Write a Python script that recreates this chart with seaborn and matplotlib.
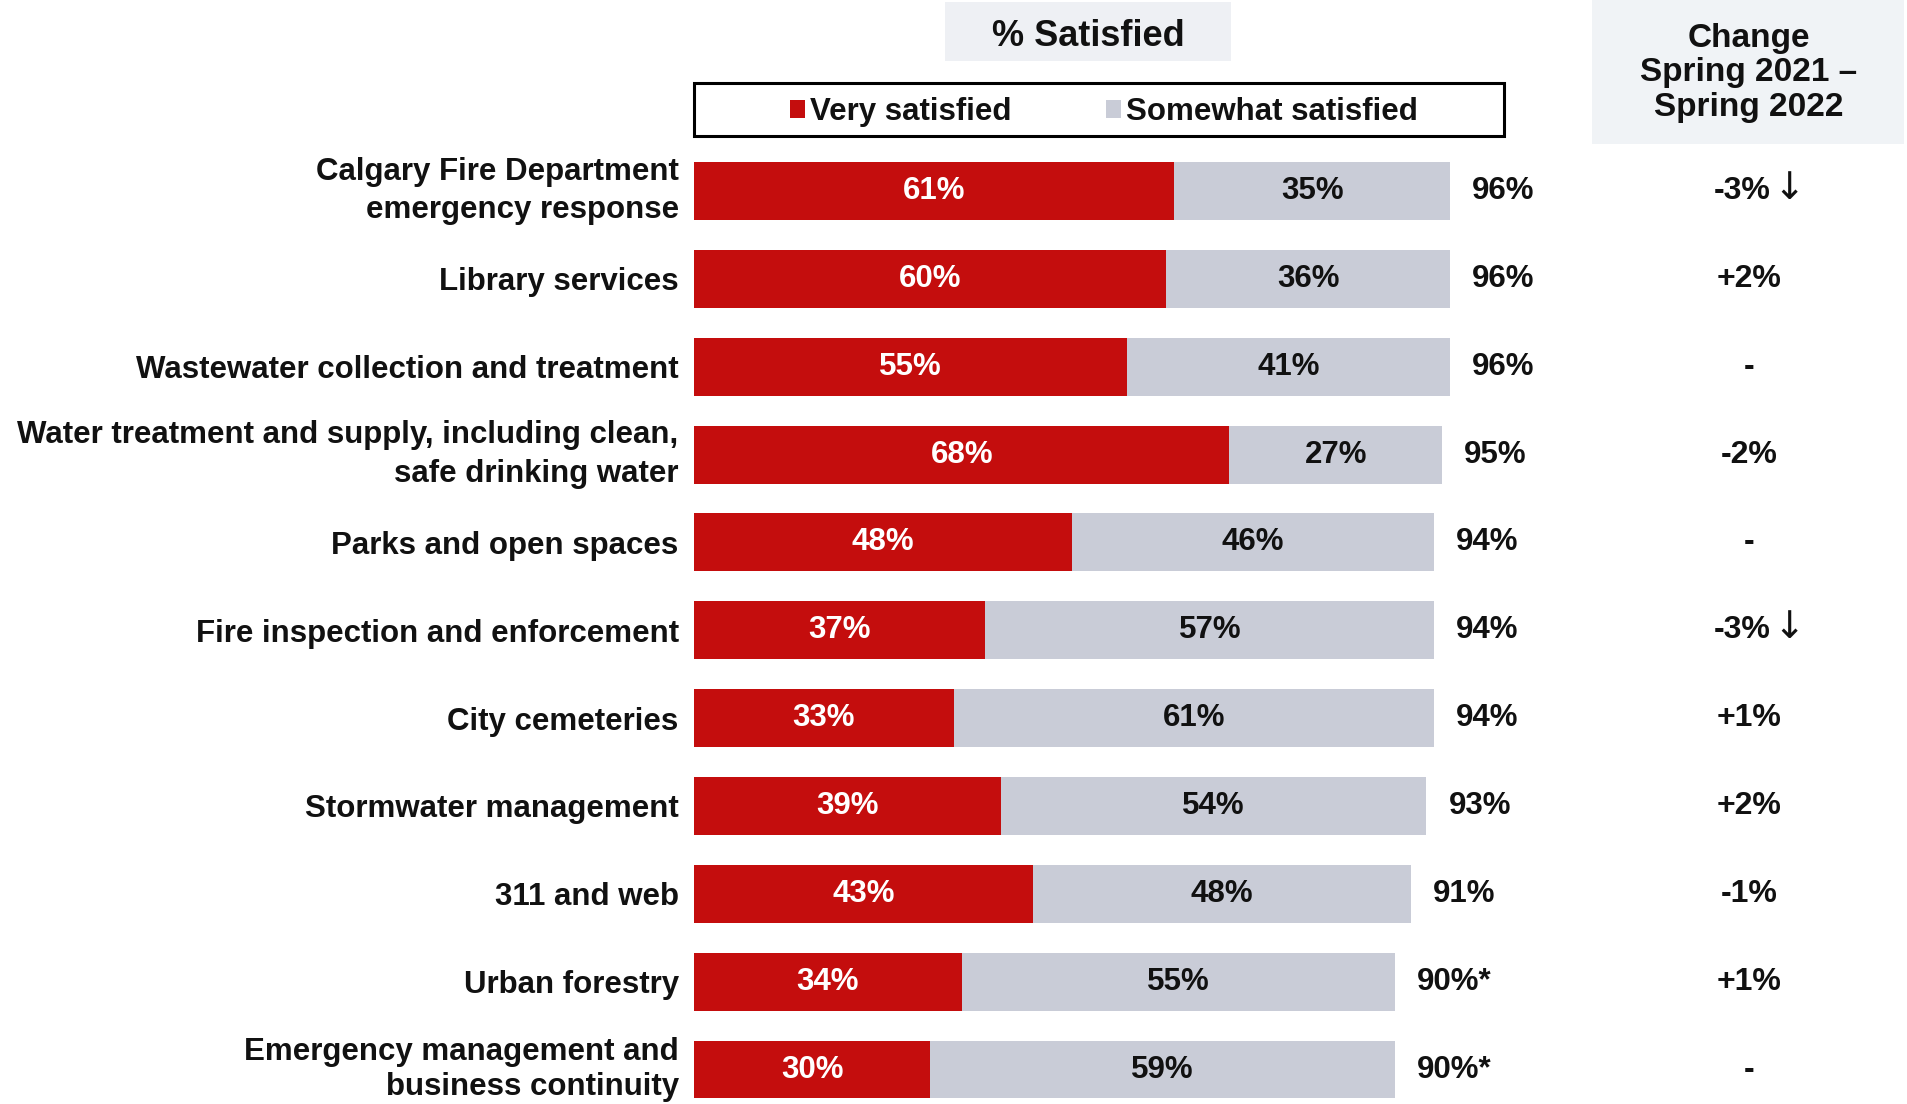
import matplotlib
matplotlib.use("Agg")
import matplotlib.pyplot as plt
from matplotlib.patches import Patch, Rectangle
import pandas as pd
import seaborn as sns

# ---- data -------------------------------------------------------------
services = [
    "Calgary Fire Department\nemergency response",
    "Library services",
    "Wastewater collection and treatment",
    "Water treatment and supply, including clean,\nsafe drinking water",
    "Parks and open spaces",
    "Fire inspection and enforcement",
    "City cemeteries",
    "Stormwater management",
    "311 and web",
    "Urban forestry",
    "Emergency management and\nbusiness continuity",
]
very_satisfied = [61, 60, 55, 68, 48, 37, 33, 39, 43, 34, 30]
somewhat_satisfied = [35, 36, 41, 27, 46, 57, 61, 54, 48, 55, 59]
total_labels = ["96%", "96%", "96%", "95%", "94%", "94%", "94%", "93%", "91%", "90%*", "90%*"]
change_labels = ["-3%\u2193", "+2%", "-", "-2%", "-", "-3%\u2193", "+1%", "+2%", "-1%", "+1%", "-"]

legend_labels = ["Very satisfied", "Somewhat satisfied"]
title_text = "% Satisfied"
change_title = "Change\nSpring 2021 \u2013\nSpring 2022"

RED = "#c40d0d"
GREY = "#c9ccd7"
INK = "#111111"

# ---- style -------------------------------------------------------------
sns.set_style("white")
plt.rcParams["font.family"] = ["Liberation Sans", "DejaVu Sans"]
plt.rcParams["font.weight"] = "bold"

W, H = 1908, 1104
fig = plt.figure(figsize=(W / 100, H / 100), dpi=100)

# axes placement in pixels
x0_px, unit_px = 694, 7.875          # left edge of bars, pixels per percent
row0_px, row_step = 191.0, 87.85     # centre of first row, row pitch
top_px = row0_px - 0.5 * row_step
y_bottom = (H - row0_px) / row_step  # data y at figure bottom
ax = fig.add_axes([x0_px / W, 0.0, 100 * unit_px / W, (H - top_px) / H])

df = pd.DataFrame({
    "service": services,
    "very": very_satisfied,
    "stack": [v + s for v, s in zip(very_satisfied, somewhat_satisfied)],
})

# stacked bars: full stack in grey, the "very satisfied" share over it in red
sns.barplot(data=df, x="stack", y="service", orient="h", color=GREY,
            saturation=1, width=0.66, errorbar=None, ax=ax, linewidth=0)
sns.barplot(data=df, x="very", y="service", orient="h", color=RED,
            saturation=1, width=0.66, errorbar=None, ax=ax, linewidth=0)

ax.set_xlim(0, 100)
ax.set_ylim(y_bottom, -0.5)
ax.set_xlabel("")
ax.set_ylabel("")
ax.set_xticks([])
for sp in ax.spines.values():
    sp.set_visible(False)
ax.tick_params(axis="y", length=0, pad=11)
ticklabels = ax.get_yticklabels()
for lbl in ticklabels:
    lbl.set_fontsize(22.5)
    lbl.set_fontweight("bold")
    lbl.set_color(INK)
    if "\n" in lbl.get_text():
        lbl.set_linespacing(1.38)
        lbl.set_verticalalignment("center")
# the last two-line label sits at the bottom edge: keep it a bit tighter
ticklabels[-1].set_linespacing(1.2)

FS = 22.5
for i, (v, s, t) in enumerate(zip(very_satisfied, somewhat_satisfied, total_labels)):
    ax.text(v / 2, i, f"{v}%", ha="center", va="center", color="white",
            fontsize=FS, fontweight="bold")
    ax.text(v + s / 2, i, f"{s}%", ha="center", va="center", color=INK,
            fontsize=FS, fontweight="bold")
    ax.text(v + s + 2.8, i, t, ha="left", va="center", color=INK,
            fontsize=FS, fontweight="bold")

# change column, positioned in figure x / data y
change_tr = matplotlib.transforms.blended_transform_factory(fig.transFigure, ax.transData)
ARROW = "\u2193"
for i, c in enumerate(change_labels):
    if c.endswith(ARROW):
        ax.text(1771 / W, i, c[:-1], transform=change_tr, ha="right", va="center",
                fontsize=23, fontweight="bold", color=INK)
        ax.text(1773 / W, i - 0.02, ARROW, transform=change_tr, ha="left", va="center",
                fontsize=27, fontweight="normal", color=INK, family="DejaVu Sans")
    else:
        ax.text(1749 / W, i, c, transform=change_tr, ha="center", va="center",
                fontsize=23, fontweight="bold", color=INK)

# header boxes
fig.patches.append(Rectangle((945 / W, 1 - 61 / H), 286 / W, 59 / H,
                             transform=fig.transFigure, facecolor="#eef0f4",
                             edgecolor="none", zorder=0))
fig.text(1088 / W, 1 - 36 / H, title_text, ha="center", va="center",
         fontsize=26, fontweight="bold", color=INK)

fig.patches.append(Rectangle((1592 / W, 1 - 144 / H), 312 / W, 144 / H,
                             transform=fig.transFigure, facecolor="#f0f3f6",
                             edgecolor="none", zorder=0))
fig.text(1749 / W, 1 - 73 / H, change_title, ha="center", va="center",
         fontsize=24, fontweight="bold", color=INK, linespacing=1.13)

# legend with a rectangular black frame
fig.patches.append(Rectangle((694 / W, 1 - 136 / H), 810 / W, 53 / H,
                             transform=fig.transFigure, facecolor="white",
                             edgecolor="black", linewidth=2.2, zorder=1))
handles = [Patch(facecolor=RED, edgecolor="none"), Patch(facecolor=GREY, edgecolor="none")]
leg = fig.legend(handles, legend_labels, loc="center",
                 bbox_to_anchor=(1104 / W, 1 - 112 / H), ncol=2, frameon=False,
                 prop={"size": 22.5, "weight": "bold"},
                 handlelength=0.48, handleheight=0.55, handletextpad=0.18,
                 columnspacing=3.0, borderpad=0)
for txt in leg.get_texts():
    txt.set_color(INK)

fig.savefig("out.png", dpi=100, facecolor="white")
